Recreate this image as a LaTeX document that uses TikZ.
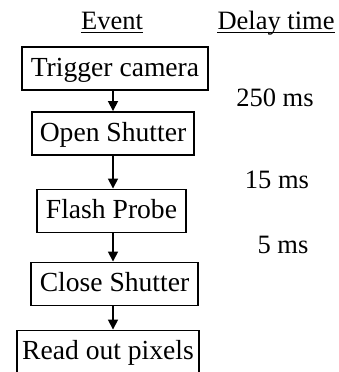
\documentclass[tikz,border=0pt]{standalone}
\usepackage{fontspec}
\setmainfont{Liberation Serif}
\usetikzlibrary{arrows.meta}
\begin{document}
\begin{tikzpicture}[x=1pt,y=-1pt,
  evbox/.style={draw, line width=1.9pt, minimum height=43pt, inner sep=0pt,
    text height=19.5pt, text depth=4.3pt, font=\fontsize{27.6}{31}\selectfont},
  lbl/.style={inner sep=0pt, font=\fontsize{26.5}{30}\selectfont},
  arr/.style={line width=1.7pt, -{Triangle[length=10pt,width=10pt]}},
  uline/.style={line width=1.4pt}]
\clip (0,0) rectangle (338,372);
\fill[white] (0,0) rectangle (338,372);
% headers
\node[lbl, anchor=base] (ev) at (112,29) {Event};
\node[lbl, anchor=base] (dt) at (276,29) {Delay time};
\draw[uline] (ev.west |- 0,32.5) coordinate (evl) -- (ev.east |- 0,32.5) coordinate (evr);
\draw[uline] (dt.west |- 0,32.5) coordinate (dtl) -- (dt.east |- 0,32.5) coordinate (dtr);
% boxes
\node[evbox, minimum width=186pt] (b1) at (115,68.5) {Trigger camera};
\node[evbox, minimum width=162pt] (b2) at (113,133.5) {Open Shutter};
\node[evbox, minimum width=149pt] (b3) at (111.5,211) {Flash Probe};
\node[evbox, minimum width=167pt] (b4) at (114.5,284) {Close Shutter};
\node[evbox, minimum width=182pt] (b5) at (108,352) {Read out pixels};
% arrow axis
\coordinate (ax) at (113,0);
\draw[arr] (b1.south -| ax) -- (b2.north -| ax);
\draw[arr] (b2.south -| ax) -- (b3.north -| ax);
\draw[arr] (b3.south -| ax) -- (b4.north -| ax);
\draw[arr] (b4.south -| ax) -- (b5.north -| ax);
% delays
\node[lbl] (d1) at (275,98) {250 ms};
\node[lbl] (d2) at (277,180) {15 ms};
\node[lbl] (d3) at (283,245) {5 ms};
\end{tikzpicture}
\end{document}
